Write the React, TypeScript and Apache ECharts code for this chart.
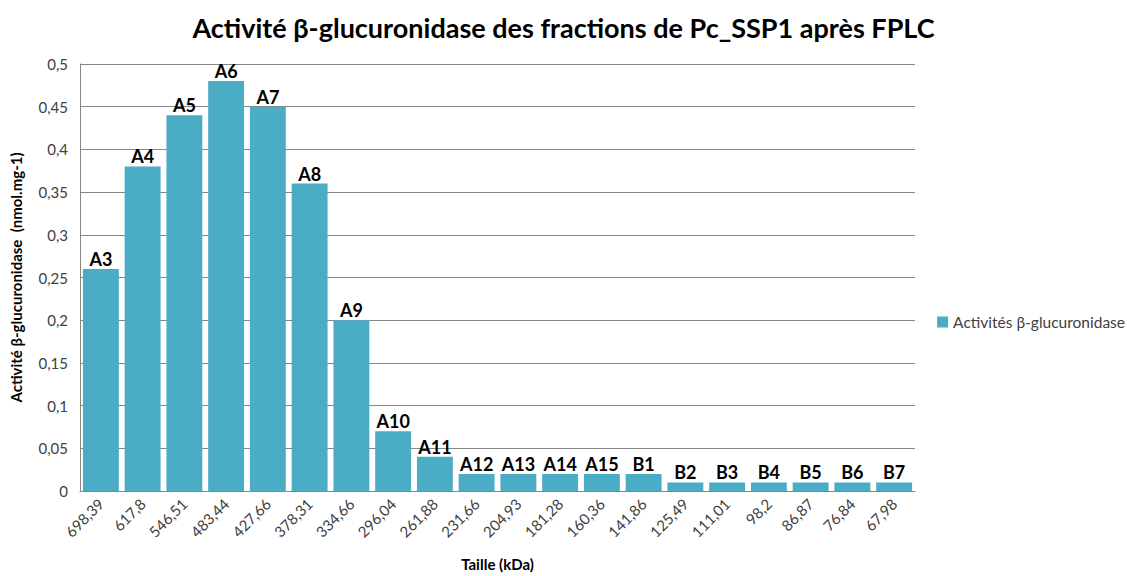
import React, { useEffect, useRef } from "react";
import * as echarts from "echarts";

const categories = ["698,39","617,8","546,51","483,44","427,66","378,31","334,66","296,04","261,88","231,66","204,93","181,28","160,36","141,86","125,49","111,01","98,2","86,87","76,84","67,98"];
const fractions = ["A3","A4","A5","A6","A7","A8","A9","A10","A11","A12","A13","A14","A15","B1","B2","B3","B4","B5","B6","B7"];
const values = [0.26,0.38,0.44,0.48,0.45,0.36,0.2,0.07,0.04,0.02,0.02,0.02,0.02,0.02,0.01,0.01,0.01,0.01,0.01,0.01];
const yTicks = [0,0.05,0.1,0.15,0.2,0.25,0.3,0.35,0.4,0.45,0.5];

export default function App() {
  const ref = useRef<HTMLDivElement>(null);
  useEffect(() => {
    const chart = echarts.init(ref.current!, null, { renderer: "svg" });
    const font = "Lato, 'Open Sans', sans-serif";
    chart.setOption({
      animation: false,
      textStyle: { fontFamily: font },
      title: {
        text: "Activité β-glucuronidase des fractions de Pc_SSP1 après FPLC",
        left: "center",
        top: 9,
        textStyle: { fontFamily: font, fontSize: 27, fontWeight: "bold", color: "#000" },
      },
      legend: {
        right: 2,
        top: 314,
        padding: 0,
        orient: "vertical",
        itemWidth: 11,
        itemHeight: 11,
        itemGap: 4,
        icon: "rect",
        textStyle: { fontFamily: font, fontSize: 15.5, color: "#404040" },
        data: ["Activités β-glucuronidase"],
      },
      grid: { left: 77, right: 212, top: 64, bottom: 80, containLabel: false },
      xAxis: {
        type: "category",
        data: categories,
        name: "Taille (kDa)",
        nameLocation: "middle",
        nameGap: 65,
        nameTextStyle: { fontFamily: font, fontSize: 15, fontWeight: "bold", color: "#000" },
        axisLine: { lineStyle: { color: "#868686", width: 1 } },
        axisTick: { show: false },
        axisLabel: { rotate: 45, fontSize: 15, color: "#404040", margin: 10, interval: 0 },
      },
      yAxis: {
        type: "value",
        min: 0,
        max: 0.5,
        interval: 0.05,
        name: "Activité β-glucuronidase  (nmol.mg-1)",
        nameLocation: "middle",
        nameGap: 57,
        nameTextStyle: { fontFamily: font, fontSize: 15, fontWeight: "bold", color: "#000" },
        axisLine: { show: true, lineStyle: { color: "#868686", width: 1 } },
        axisTick: { show: false },
        splitLine: { lineStyle: { color: "#868686", width: 1 } },
        axisLabel: {
          fontSize: 15,
          color: "#404040",
          margin: 12,
          formatter: (v: number) => {
            const t = yTicks.find((x) => Math.abs(x - v) < 1e-9);
            return String(t !== undefined ? t : v).replace(".", ",");
          },
        },
      },
      series: [
        {
          name: "Activités β-glucuronidase",
          type: "bar",
          data: values,
          barCategoryGap: "14%",
          itemStyle: { color: "#4BACC6" },
          label: {
            show: true,
            position: "top",
            distance: 1,
            fontFamily: font,
            fontSize: 18,
            fontWeight: "bold",
            color: "#000",
            formatter: (p: any) => fractions[p.dataIndex],
          },
        },
      ],
    });
    return () => chart.dispose();
  }, []);
  return <div ref={ref} style={{ width: 1127, height: 576, position: "absolute", left: 0, top: 0, background: "#fff" }} />;
}
